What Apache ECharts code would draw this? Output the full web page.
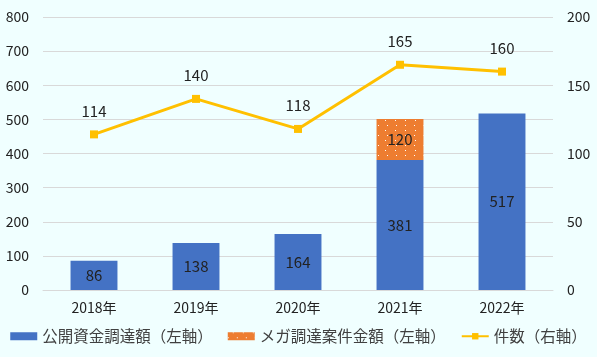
<!DOCTYPE html>
<html><head><meta charset="utf-8">
<script src="https://cdn.jsdelivr.net/npm/echarts@6/dist/echarts.min.js"></script>
<style>html,body{margin:0;padding:0;background:#F0FFFF;}#c{width:597px;height:357px;}</style>
</head><body><div id="c"></div>
<script>
const categories = ['2018年','2019年','2020年','2021年','2022年'];
const publicFunding = [86,138,164,381,517];
const megaDeals = [null,null,null,120,null];
const dealCount = [114,140,118,165,160];
const seriesNames = ['公開資金調達額（左軸）','メガ調達案件金額（左軸）','件数（右軸）'];

const font = '"Noto Sans CJK JP", "Noto Sans", sans-serif';
const chart = echarts.init(document.getElementById('c'), null, {renderer:'canvas'});
chart.setOption({
  backgroundColor:'#F0FFFF',
  animation:false,
  textStyle:{fontFamily:font},
  grid:{left:43,right:44,top:17,bottom:67},
  legend:{
    bottom:8, left:'center', itemGap:15, itemWidth:27, itemHeight:8,
    textStyle:{fontSize:15.5,color:'#404040',fontFamily:font},
    data:[{name:seriesNames[0],icon:'rect'},{name:seriesNames[1],icon:'rect'},{name:seriesNames[2]}]
  },
  xAxis:{
    type:'category', data:categories,
    axisLine:{lineStyle:{color:'#d9d9d9'}}, axisTick:{show:false},
    axisLabel:{fontSize:14,color:'#222',margin:11,fontFamily:font}
  },
  yAxis:[
    {type:'value',min:0,max:800,interval:100,
     axisLabel:{fontSize:14,color:'#222',margin:14,fontFamily:font},
     splitLine:{lineStyle:{color:'#d9d9d9'}},axisLine:{show:false},axisTick:{show:false}},
    {type:'value',min:0,max:200,interval:50,
     axisLabel:{fontSize:14,color:'#222',margin:14,fontFamily:font},
     splitLine:{show:false},axisLine:{show:false},axisTick:{show:false}}
  ],
  series:[
    {name:seriesNames[0],type:'bar',stack:'a',data:publicFunding,barWidth:'46%',
     itemStyle:{color:'#4472C4'},
     label:{show:true,position:'inside',fontSize:15,color:'#222',fontFamily:font}},
    {name:seriesNames[1],type:'bar',stack:'a',data:megaDeals,barWidth:'46%',
     itemStyle:{color:'#ED7D31',decal:{symbol:'rect',symbolSize:1,color:'#ffffff',
       dashArrayX:[[1,8],[0,4.5,1,3.5]],dashArrayY:[1,3.5]}},
     label:{show:true,position:'inside',fontSize:15,color:'#222',fontFamily:font}},
    {name:seriesNames[2],type:'line',yAxisIndex:1,data:dealCount,
     symbol:'rect',symbolSize:8,
     lineStyle:{color:'#FFC000',width:3},itemStyle:{color:'#FFC000'},
     label:{show:true,position:'top',distance:12,fontSize:15,color:'#222',fontFamily:font}}
  ]
});
</script></body></html>
